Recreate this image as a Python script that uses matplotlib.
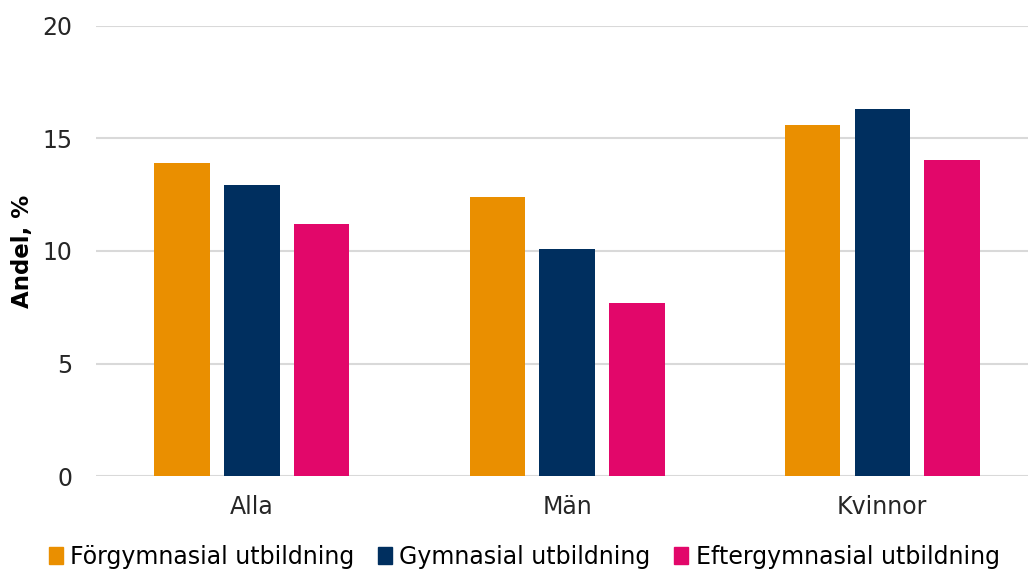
import numpy as np
import matplotlib.pyplot as plt
from matplotlib.patches import Patch

categories = ["Alla", "Män", "Kvinnor"]
series_names = ["Förgymnasial utbildning", "Gymnasial utbildning", "Eftergymnasial utbildning"]
forgymnasial = [13.9, 12.4, 15.6]
gymnasial = [12.95, 10.1, 16.3]
eftergymnasial = [11.2, 7.7, 14.05]
colors = ["#EA8F00", "#002F5F", "#E2076A"]

fig = plt.figure(figsize=(10.28, 5.73), dpi=100)
ax = fig.add_axes([96 / 1028, 1 - 476 / 573, 1 - 96 / 1028, 450 / 573])

x = np.arange(len(categories))
width = 0.175
step = 0.222
for i, vals in enumerate([forgymnasial, gymnasial, eftergymnasial]):
    ax.bar(x + (i - 1) * step, vals, width, color=colors[i], zorder=3)

ax.set_xlim(-0.495, 2.463)
ax.set_ylim(0, 20)
ax.set_yticks([0, 5, 10, 15, 20])
ax.set_xticks(x)
ax.set_xticklabels(categories)
ax.grid(axis="y", color="#d9d9d9", linewidth=1.5, zorder=0)
ax.set_axisbelow(True)
for s in ax.spines.values():
    s.set_visible(False)
ax.tick_params(axis="both", length=0, labelsize=17, labelcolor="#262626")
ax.tick_params(axis="y", pad=17)
ax.tick_params(axis="x", pad=14)
ax.set_ylabel("Andel, %", fontsize=16.5, fontweight="bold", labelpad=6)

handles = [Patch(color=c) for c in colors]
fig.legend(handles, series_names, loc="center", bbox_to_anchor=(0.51, 0.028),
           ncol=3, frameon=False, fontsize=17, handlelength=0.6, handleheight=0.7,
           handletextpad=0.3, columnspacing=1.0, borderpad=0)

fig.savefig("out.png", dpi=100)
